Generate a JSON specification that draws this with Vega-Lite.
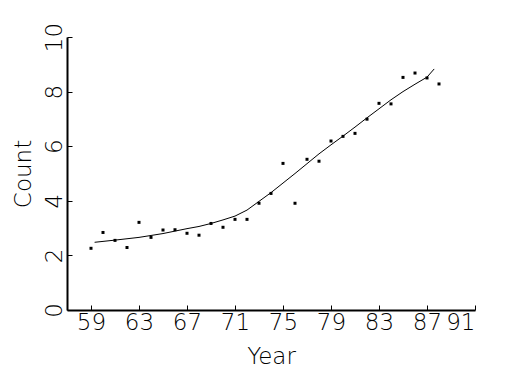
{
  "$schema": "https://vega.github.io/schema/vega-lite/v6.json",
  "width": 408,
  "height": 273,
  "autosize": "none",
  "padding": {"left": 67, "top": 37, "right": 50, "bottom": 65},
  "background": "white",
  "config": {
    "view": {"stroke": null},
    "axis": {
      "grid": false,
      "domainColor": "black",
      "domainWidth": 2,
      "tickColor": "black",
      "tickWidth": 1,
      "tickSize": -5,
      "labelColor": "black",
      "titleColor": "black",
      "labelFont": "DejaVu Sans",
      "titleFont": "DejaVu Sans",
      "labelFontWeight": 200,
      "titleFontWeight": 200,
      "labelFontSize": 23,
      "titleFontSize": 23
    }
  },
  "datasets": {
    "points": [
      {"Year": 59, "Count": 2.26}, {"Year": 60, "Count": 2.84}, {"Year": 61, "Count": 2.55},
      {"Year": 62, "Count": 2.29}, {"Year": 63, "Count": 3.21}, {"Year": 64, "Count": 2.66},
      {"Year": 65, "Count": 2.93}, {"Year": 66, "Count": 2.94}, {"Year": 67, "Count": 2.81},
      {"Year": 68, "Count": 2.74}, {"Year": 69, "Count": 3.17}, {"Year": 70, "Count": 3.03},
      {"Year": 71, "Count": 3.32}, {"Year": 72, "Count": 3.32}, {"Year": 73, "Count": 3.91},
      {"Year": 74, "Count": 4.27}, {"Year": 75, "Count": 5.37}, {"Year": 76, "Count": 3.91},
      {"Year": 77, "Count": 5.52}, {"Year": 78, "Count": 5.45}, {"Year": 79, "Count": 6.19},
      {"Year": 80, "Count": 6.36}, {"Year": 81, "Count": 6.47}, {"Year": 82, "Count": 6.99},
      {"Year": 83, "Count": 7.57}, {"Year": 84, "Count": 7.55}, {"Year": 85, "Count": 8.52},
      {"Year": 86, "Count": 8.68}, {"Year": 87, "Count": 8.5}, {"Year": 88, "Count": 8.28}
    ],
    "fit": [
      {"Year": 59.3, "Count": 2.48}, {"Year": 61, "Count": 2.56}, {"Year": 63, "Count": 2.66},
      {"Year": 65, "Count": 2.8}, {"Year": 66, "Count": 2.89}, {"Year": 67, "Count": 2.98},
      {"Year": 68, "Count": 3.06}, {"Year": 69, "Count": 3.17}, {"Year": 70, "Count": 3.3},
      {"Year": 71, "Count": 3.44}, {"Year": 72, "Count": 3.66}, {"Year": 73, "Count": 3.98},
      {"Year": 74, "Count": 4.3}, {"Year": 75, "Count": 4.65}, {"Year": 76, "Count": 5.0},
      {"Year": 77, "Count": 5.36}, {"Year": 78, "Count": 5.72}, {"Year": 79, "Count": 6.05},
      {"Year": 80, "Count": 6.37}, {"Year": 81, "Count": 6.7}, {"Year": 82, "Count": 7.04},
      {"Year": 83, "Count": 7.37}, {"Year": 84, "Count": 7.7}, {"Year": 85, "Count": 8.0},
      {"Year": 86, "Count": 8.27}, {"Year": 87, "Count": 8.53}, {"Year": 87.6, "Count": 8.83}
    ]
  },
  "layer": [
    {
      "data": {"name": "fit"},
      "mark": {"type": "line", "color": "black", "strokeWidth": 1},
      "encoding": {
        "x": {
          "field": "Year", "type": "quantitative",
          "scale": {"domain": [57, 91], "nice": false, "zero": false},
          "axis": {
            "title": "Year",
            "values": [59, 61, 63, 65, 67, 69, 71, 73, 75, 77, 79, 81, 83, 85, 87, 89, 91],
            "labelExpr": "(datum.value - 59) % 4 == 0 ? datum.label : ''",
            "labelPadding": 6,
            "titlePadding": 11
          }
        },
        "y": {
          "field": "Count", "type": "quantitative",
          "scale": {"domain": [0, 10], "nice": false},
          "axis": {
            "title": "Count",
            "values": [0, 2, 4, 6, 8, 10],
            "labelAngle": -90,
            "labelAlign": "center",
            "labelBaseline": "bottom",
            "labelPadding": 6,
            "titlePadding": 8
          }
        }
      }
    },
    {
      "data": {"name": "points"},
      "mark": {"type": "square", "color": "black", "filled": true, "opacity": 1, "size": 9},
      "encoding": {
        "x": {"field": "Year", "type": "quantitative"},
        "y": {"field": "Count", "type": "quantitative"}
      }
    }
  ]
}
